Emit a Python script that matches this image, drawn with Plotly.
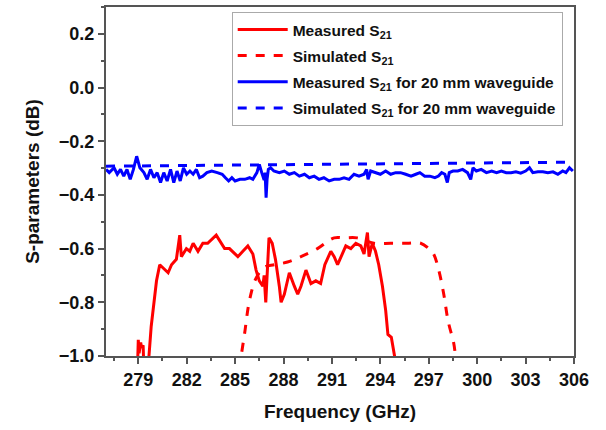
import plotly.graph_objects as go

# Measured S21 of the filter (GHz, dB)
meas_f = [278.95, 279.0, 279.05, 279.15, 279.2, 279.3, 279.35, 279.6, 279.8, 280.13, 280.33,
          280.85, 281.06, 281.36, 281.57, 281.67, 281.98, 282.19, 282.4, 282.7, 283.0,
          283.3, 283.83, 284.35, 284.65, 285.17, 285.48, 285.79, 286.1, 286.3, 286.5,
          286.72, 286.8, 286.9, 287.0, 287.1, 287.3, 287.5, 287.74, 287.85, 288.05,
          288.36, 288.67, 288.88, 289.08, 289.39, 289.7, 290.0, 290.3, 290.56, 290.93,
          291.14, 291.35, 291.55, 291.86, 292.17, 292.48, 292.79, 292.99, 293.2, 293.3,
          293.5, 293.7, 293.9, 294.13, 294.33, 294.47, 294.68, 294.88, 294.95]
meas_s21 = [-1.05, -0.94, -0.99, -0.95, -0.97, -0.96, -1.05, -1.05, -0.89, -0.72, -0.66,
            -0.69, -0.66, -0.64, -0.55, -0.63, -0.60, -0.61, -0.58, -0.61, -0.58,
            -0.58, -0.55, -0.60, -0.60, -0.63, -0.61, -0.59, -0.62, -0.68, -0.72,
            -0.74, -0.70, -0.80, -0.68, -0.56, -0.58, -0.64, -0.74, -0.80, -0.77,
            -0.69, -0.74, -0.77, -0.74, -0.68, -0.73, -0.72, -0.73, -0.66, -0.61,
            -0.63, -0.66, -0.63, -0.59, -0.60, -0.58, -0.59, -0.62, -0.54, -0.63,
            -0.58, -0.61, -0.66, -0.74, -0.83, -0.92, -0.93, -1.0, -1.05]

# Simulated S21 of the filter
sim_f = [285.3, 285.38, 285.58, 285.9, 286.3, 286.8, 287.43, 288.25, 289.08, 290.1, 291.14,
         291.75, 292.57, 293.6, 294.64, 295.67, 296.5, 297.0, 297.3, 297.62, 297.93,
         298.2, 298.54, 298.65, 298.7]
sim_s21 = [-1.05, -1.0, -0.92, -0.79, -0.71, -0.67, -0.66, -0.65, -0.63, -0.60, -0.56,
           -0.56, -0.56, -0.58, -0.58, -0.58, -0.58, -0.60, -0.62, -0.68, -0.77,
           -0.87, -0.95, -1.0, -1.05]

# Measured S21 of the 20 mm waveguide
wg_f = [277.0, 277.2, 277.5, 277.7, 277.9, 278.1, 278.3, 278.5, 278.7, 278.9, 279.1,
        279.35, 279.55, 279.76, 279.97, 280.17, 280.38, 280.58, 280.79, 281.0, 281.2,
        281.4, 281.6, 281.8, 282.0, 282.2, 282.4, 282.6, 282.8, 283.0, 283.25, 283.55,
        283.9, 284.2, 284.4, 284.6, 284.8, 285.0, 285.3, 285.6, 285.9, 286.1, 286.35,
        286.5, 286.65, 286.8, 286.86, 286.92, 286.98, 287.06, 287.2, 287.4, 287.74,
        288.05, 288.36, 288.67, 288.98, 289.3, 289.6, 289.9, 290.2, 290.5, 290.83,
        291.14, 291.45, 291.75, 292.06, 292.37, 292.68, 292.99, 293.15, 293.24, 293.4,
        293.7, 294.0, 294.33, 294.64, 294.95, 295.25, 295.57, 295.9, 296.2, 296.45,
        296.75, 297.07, 297.38, 297.6, 297.8, 298.0, 298.15, 298.27, 298.5, 298.8,
        299.1, 299.4, 299.6, 299.74, 299.95, 300.25, 300.57, 300.9, 301.2, 301.5,
        301.8, 302.1, 302.4, 302.7, 303.0, 303.24, 303.45, 303.76, 304.07, 304.38,
        304.7, 305.0, 305.3, 305.5, 305.72, 305.93]
wg_s21 = [-0.305, -0.317, -0.299, -0.323, -0.305, -0.330, -0.305, -0.342, -0.305, -0.256, -0.299,
          -0.317, -0.342, -0.305, -0.336, -0.317, -0.354, -0.317, -0.348, -0.305, -0.354,
          -0.311, -0.348, -0.299, -0.323, -0.311, -0.323, -0.305, -0.336, -0.330, -0.317, -0.311,
          -0.317, -0.323, -0.336, -0.348, -0.336, -0.348, -0.342, -0.342, -0.336, -0.342, -0.317,
          -0.286, -0.317, -0.345, -0.317, -0.410, -0.342, -0.305, -0.299, -0.311, -0.317,
          -0.311, -0.323, -0.317, -0.330, -0.323, -0.336, -0.330, -0.342, -0.336, -0.348,
          -0.342, -0.342, -0.336, -0.342, -0.323, -0.330, -0.323, -0.305, -0.342, -0.311,
          -0.317, -0.323, -0.311, -0.323, -0.317, -0.317, -0.323, -0.330, -0.323, -0.317,
          -0.330, -0.330, -0.336, -0.330, -0.317, -0.323, -0.354, -0.317, -0.311, -0.311,
          -0.305, -0.317, -0.342, -0.299, -0.311, -0.305, -0.317, -0.311, -0.317, -0.311,
          -0.317, -0.317, -0.314, -0.319, -0.311, -0.299, -0.317, -0.314, -0.314, -0.317,
          -0.314, -0.323, -0.311, -0.317, -0.299, -0.311]

# Simulated S21 of the 20 mm waveguide
wg_sim_f = [277.0, 306.0]
wg_sim_s21 = [-0.293, -0.278]

RED = "#ff0000"
BLUE = "#0000ff"
FONT = "Liberation Sans, Arial, sans-serif"

fig = go.Figure()
fig.add_trace(go.Scatter(x=meas_f, y=meas_s21, mode="lines", legendgroup="a",
                         line=dict(color=RED, width=3),
                         name="Measured S<sub>21</sub>"))
fig.add_trace(go.Scatter(x=sim_f, y=sim_s21, mode="lines", legendgroup="b",
                         line=dict(color=RED, width=3, dash="dash", shape="spline"),
                         name="Simulated S<sub>21</sub>"))
fig.add_trace(go.Scatter(x=wg_f, y=wg_s21, mode="lines", legendgroup="c",
                         line=dict(color=BLUE, width=3),
                         name="Measured S<sub>21</sub> for 20 mm waveguide"))
fig.add_trace(go.Scatter(x=wg_sim_f, y=wg_sim_s21, mode="lines", legendgroup="d",
                         line=dict(color=BLUE, width=3, dash="dash"),
                         name="Simulated S<sub>21</sub> for 20 mm waveguide"))

axis_common = dict(
    showline=True, linecolor="#555555", linewidth=2, mirror=True,
    ticks="outside", ticklen=6, tickwidth=1.5, tickcolor="#555555",
    showgrid=False, zeroline=False,
    tickfont=dict(family=FONT, size=18, color="#111111", weight="bold"),
)

fig.update_xaxes(
    range=[277, 306], tick0=279, dtick=3,
    minor=dict(ticks="outside", ticklen=3, tickcolor="#555555", dtick=1.5, tick0=279),
    title=dict(text="Frequency (GHz)", standoff=16,
               font=dict(family=FONT, size=19, color="#111111", weight="bold")),
    **axis_common,
)
fig.update_yaxes(
    range=[-1.0, 0.3], tickvals=[-1.0, -0.8, -0.6, -0.4, -0.2, 0.0, 0.2], tickformat=".1f",
    minor=dict(ticks="outside", ticklen=3, tickcolor="#555555", dtick=0.1, tick0=0),
    title=dict(text="S-parameters (dB)", standoff=14,
               font=dict(family=FONT, size=19, color="#111111", weight="bold")),
    **axis_common,
)

fig.update_layout(
    width=606, height=430,
    margin=dict(l=106, r=32, t=5, b=74),
    paper_bgcolor="white", plot_bgcolor="white",
    showlegend=True,
    legend=dict(x=0.2686, y=0.986, xanchor="left", yanchor="top",
                bgcolor="white", bordercolor="#aaaaaa", borderwidth=1,
                font=dict(family=FONT, size=15.5, color="#111111", weight="bold"),
                tracegroupgap=3, itemwidth=50),
)

fig.write_html("out.html")
